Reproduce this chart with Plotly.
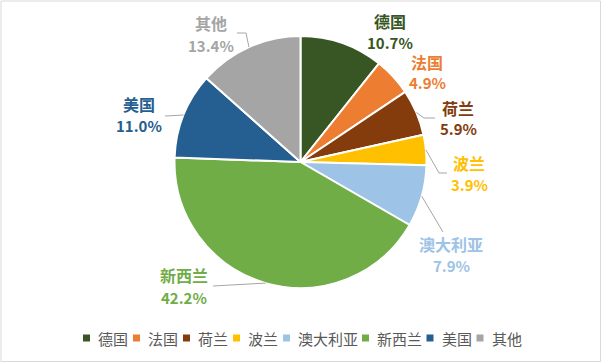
import math
import plotly.graph_objects as go

# ---- data ----
labels = ["德国", "法国", "荷兰", "波兰", "澳大利亚", "新西兰", "美国", "其他"]
values = [10.7, 4.9, 5.9, 3.9, 7.9, 42.2, 11.0, 13.4]
colors = ["#375623", "#ED7D31", "#843C0C", "#FFC000", "#9DC3E6", "#70AD47", "#255E91", "#A5A5A5"]

# ---- layout constants (pixels) ----
W, H = 602, 363
CX, CY, R = 300.5, 162.0, 126.0
FONT = "Noto Sans CJK SC"

# label block centres (name line y, percent line y)
label_pos = [
    (390, 21, 42), (427, 62, 83), (458, 108, 128), (469, 163, 184),
    (451, 244, 265), (184, 275, 297), (139, 104, 126), (211, 23, 45),
]
# leader line bend / end points after the slice edge (None = no leader)
leaders = [
    None, None,
    [(424, 118), (435, 118)],
    [(439, 173), (447, 173)],
    [(443, 232)],
    [(213, 286)],
    [(165, 116)],
    [(246, 33), (237, 33)],
]


def px(x):
    return x / W


def py(y):
    return 1 - y / H


fig = go.Figure(
    go.Pie(
        labels=labels,
        values=values,
        sort=False,
        direction="clockwise",
        rotation=0,
        marker=dict(colors=colors, line=dict(color="white", width=2)),
        textinfo="none",
        hoverinfo="label+percent",
        showlegend=False,
        domain=dict(x=[px(CX - R), px(CX + R)], y=[py(CY + R), py(CY - R)]),
    )
)

annotations = []
shapes = []
total = sum(values)
cum = 0.0
for i, (lab, v, col) in enumerate(zip(labels, values, colors)):
    mid = (cum + v / 2) / total * 2 * math.pi
    cum += v
    lx, ny, pyy = label_pos[i]
    annotations.append(dict(x=px(lx), y=py(ny), xref="paper", yref="paper", text=lab,
                            showarrow=False, xanchor="center", yanchor="middle",
                            font=dict(family=FONT, size=16, color=col, weight=700)))
    annotations.append(dict(x=px(lx), y=py(pyy), xref="paper", yref="paper", text=f"{v:.1f}%",
                            showarrow=False, xanchor="center", yanchor="middle",
                            font=dict(family=FONT, size=15, color=col, weight=700)))
    if leaders[i]:
        ex = CX + R * math.sin(mid)
        ey = CY - R * math.cos(mid)
        pts = [(ex, ey)] + leaders[i]
        path = "M " + " L ".join(f"{px(x):.5f},{py(y):.5f}" for x, y in pts)
        shapes.append(dict(type="path", path=path, xref="paper", yref="paper",
                           line=dict(color="#A6A6A6", width=1)))

# ---- custom legend ----
LEG_Y = 338
CHAR_W = 14.5
x = 83.0
for lab, col in zip(labels, colors):
    shapes.append(dict(type="rect", xref="paper", yref="paper",
                       x0=px(x), x1=px(x + 7), y0=py(LEG_Y + 3.5), y1=py(LEG_Y - 3.5),
                       fillcolor=col, line=dict(width=0)))
    tx = x + 13
    annotations.append(dict(x=px(tx), y=py(LEG_Y), xref="paper", yref="paper", text=lab,
                            showarrow=False, xanchor="left", yanchor="middle",
                            font=dict(family=FONT, size=15, color="#595959")))
    x = tx + CHAR_W * len(lab) + 8

# chart border
shapes.append(dict(type="rect", xref="paper", yref="paper", x0=px(1), x1=px(W - 1.5),
                   y0=py(H - 1.5), y1=py(1), line=dict(color="#D9D9D9", width=1)))

fig.update_layout(
    width=W, height=H,
    margin=dict(l=0, r=0, t=0, b=0),
    paper_bgcolor="white", plot_bgcolor="white",
    annotations=annotations, shapes=shapes,
    font=dict(family=FONT),
)

fig.write_html("out.html", config={"displayModeBar": False},
               post_script="document.body.style.margin='0';document.body.style.overflow='hidden';")
